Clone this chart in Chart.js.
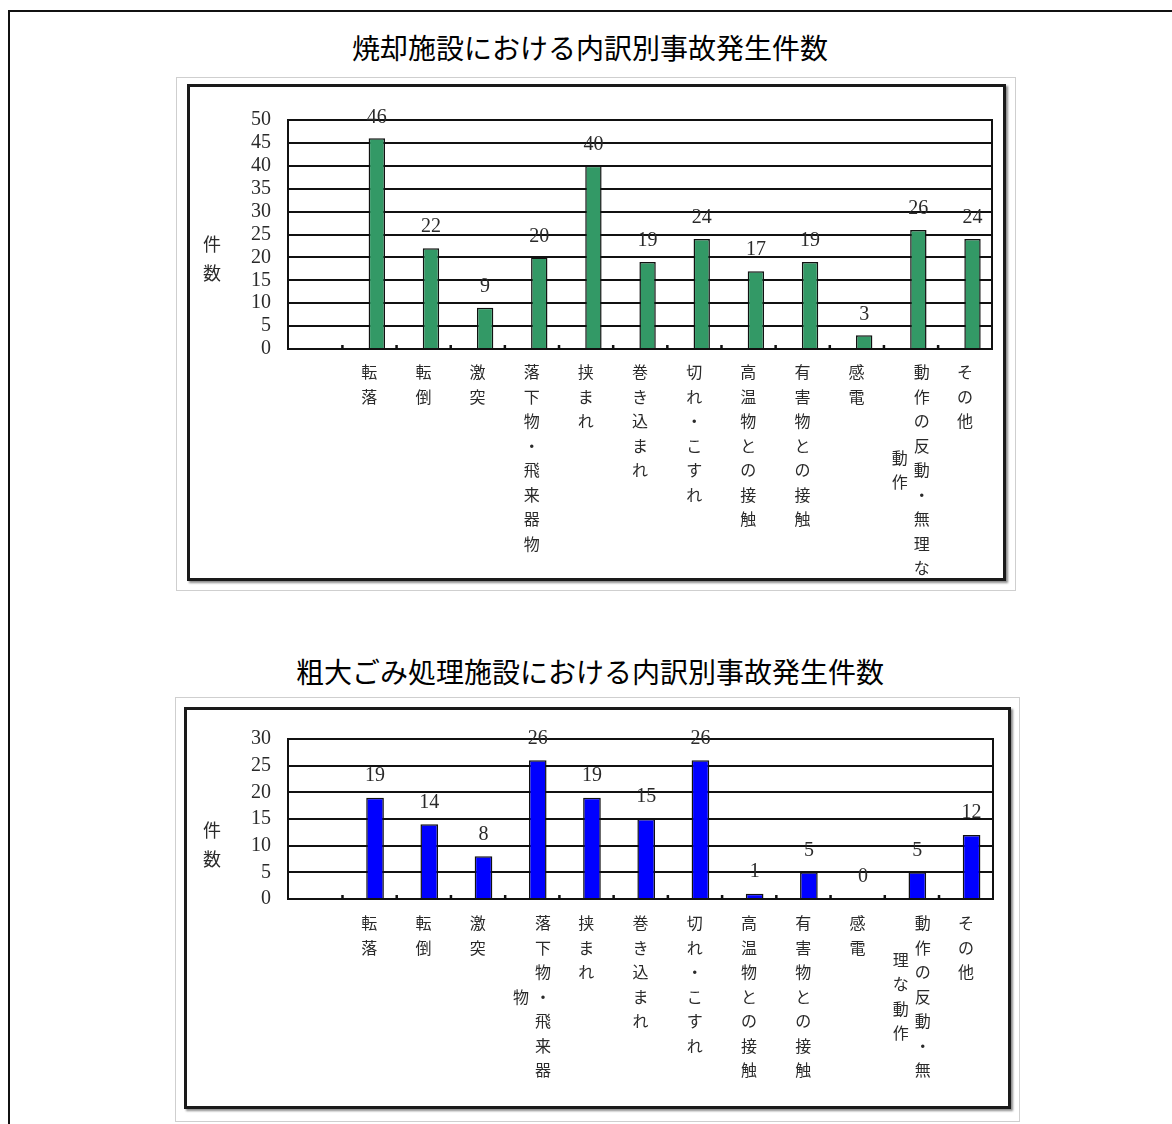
<!DOCTYPE html>
<html lang="ja">
<head>
<meta charset="utf-8">
<title>内訳別事故発生件数</title>
<script src="https://cdn.jsdelivr.net/npm/chart.js@4.4.0/dist/chart.umd.min.js"></script>
<style>
  html, body { margin: 0; padding: 0; background: #fff; }
  body { width: 1172px; height: 1124px; position: relative; overflow: hidden;
         font-family: "Noto Sans CJK JP", "Noto Sans", sans-serif; }
  #page { position: absolute; left: 8px; top: 10px; width: 1300px; height: 1300px;
          border-left: 2px solid #111; border-top: 2px solid #111; }
  .title { position: absolute; left: 8px; width: 1164px; text-align: center;
           font-size: 28px; line-height: 32px; color: #000; white-space: nowrap; }
  .imgbox { position: absolute; box-sizing: border-box; border: 1px solid #cfcfcf; background: #fff; }
  .frame { position: absolute; box-sizing: border-box; border: 3px solid #1a1a1a;
           box-shadow: 2px 2px 2px rgba(0,0,0,0.45); filter: blur(0.4px); }
  .plot { position: absolute; }
  .plot canvas { filter: blur(0.55px); }
</style>
</head>
<body>
<div id="page"></div>

<div class="title" id="title1" style="top:31px;"></div>
<div class="imgbox" style="left:176px; top:77px; width:840px; height:514px;"></div>
<div class="frame" style="left:187px; top:84px; width:819px; height:497px;"></div>
<div class="plot" style="left:190px; top:87px; width:813px; height:491px;"><canvas id="chart1"></canvas></div>

<div class="title" id="title2" style="top:655px;"></div>
<div class="imgbox" style="left:175px; top:697px; width:845px; height:425px;"></div>
<div class="frame" style="left:184px; top:707px; width:827px; height:402px;"></div>
<div class="plot" style="left:187px; top:710px; width:821px; height:396px;"><canvas id="chart2"></canvas></div>

<script>
// Accident categories (the first slot is left empty on both charts)
const categories = ['', '転落', '転倒', '激突', '落下物・飛来器物', '挟まれ', '巻き込まれ',
  '切れ・こすれ', '高温物との接触', '有害物との接触', '感電', '動作の反動・無理な動作', 'その他'];

// Accident counts per category
const incineratorCounts = [null, 46, 22, 9, 20, 40, 19, 24, 17, 19, 3, 26, 24];
const bulkyWasteCounts  = [null, 19, 14, 8, 26, 19, 15, 26, 1, 5, 0, 5, 12];

// Empty companion series: it keeps the count bars in the right half of each category slot
const emptySeries = [null, null, null, null, null, null, null, null, null, null, null, null, null];

// Value-axis tick labels
const incineratorTicks = [0, 5, 10, 15, 20, 25, 30, 35, 40, 45, 50];
const bulkyWasteTicks  = [0, 5, 10, 15, 20, 25, 30];

const chartTitles = ['焼却施設における内訳別事故発生件数', '粗大ごみ処理施設における内訳別事故発生件数'];
const valueAxisTitle = '件数';

document.getElementById('title1').textContent = chartTitles[0];
document.getElementById('title2').textContent = chartTitles[1];

const INK = '#2a2a2a';
const LINE = '#111';
const SERIF = '"Liberation Serif", "DejaVu Serif", serif';
const CJK = '"Noto Sans CJK JP", sans-serif';

// Draws the plot frame, category boundary marks, bar values,
// vertical (tategaki) category labels and the stacked axis title.
const decorations = {
  id: 'decorations',
  afterDatasetsDraw(chart, args, o) {
    const { ctx, chartArea: a, scales: { x } } = chart;
    ctx.save();

    // right edge of the plot frame
    ctx.strokeStyle = LINE;
    ctx.lineWidth = 2;
    ctx.beginPath();
    ctx.moveTo(a.right, a.top - 1);
    ctx.lineTo(a.right, a.bottom + 1);
    ctx.stroke();

    // small inward marks on the category boundaries
    ctx.fillStyle = LINE;
    const n = chart.data.labels.length;
    for (let i = 1; i < n; i++) {
      const px = (x.getPixelForTick(i - 1) + x.getPixelForTick(i)) / 2;
      ctx.fillRect(px - 1, a.bottom - 4, 2.5, 4);
    }

    // value labels above the bars
    const ds = chart.data.datasets[1];
    const meta = chart.getDatasetMeta(1);
    ctx.fillStyle = INK;
    ctx.font = o.valueFont;
    ctx.textAlign = 'center';
    ctx.textBaseline = 'bottom';
    meta.data.forEach((bar, i) => {
      const v = ds.data[i];
      if (v === null || v === undefined) return;
      ctx.fillText(String(v), bar.x, bar.y - o.valueGap);
    });

    // vertical category labels, wrapped into columns right-to-left
    ctx.font = o.labelFont;
    ctx.textBaseline = 'middle';
    chart.data.labels.forEach((lab, i) => {
      if (!lab) return;
      const chars = Array.from(lab);
      const cols = [];
      for (let k = 0; k < chars.length; k += o.rows) cols.push(chars.slice(k, k + o.rows));
      const cx = x.getPixelForTick(i);
      cols.forEach((col, c) => {
        const colX = cx + ((cols.length - 1) / 2 - c) * o.colGap;
        const yOff = (cols[0].length - col.length) / 2 * o.rowPitch;
        col.forEach((ch, r) => {
          ctx.fillText(ch, colX, a.bottom + o.labelTop + yOff + r * o.rowPitch);
        });
      });
    });

    // stacked value-axis title
    ctx.font = o.axisTitleFont;
    Array.from(o.axisTitle).forEach((ch, r) => {
      ctx.fillText(ch, a.left - o.axisTitleDx, a.top + o.axisTitleDy + r * o.axisTitlePitch);
    });

    ctx.restore();
  }
};

function makeChart(id, counts, ticks, color, geo) {
  return new Chart(document.getElementById(id), {
    type: 'bar',
    data: {
      labels: categories,
      datasets: [
        { label: '', data: emptySeries, backgroundColor: 'rgba(0,0,0,0)' },
        {
          label: '件数',
          data: counts,
          backgroundColor: color,
          borderColor: LINE,
          borderWidth: 1.5,
          categoryPercentage: geo.catPct,
          barPercentage: geo.barPct
        }
      ]
    },
    options: {
      responsive: true,
      maintainAspectRatio: false,
      animation: false,
      datasets: { bar: { categoryPercentage: geo.catPct, barPercentage: geo.barPct } },
      layout: { padding: { left: 0, top: geo.padTop, right: geo.padRight, bottom: 0 } },
      plugins: {
        legend: { display: false },
        tooltip: { enabled: false },
        title: { display: false },
        decorations: {
          valueFont: '20px ' + SERIF,
          valueGap: geo.valueGap,
          labelFont: '16px ' + CJK,
          rows: geo.rows,
          rowPitch: 24.5,
          colGap: 22,
          labelTop: geo.labelTop,
          axisTitle: valueAxisTitle,
          axisTitleFont: '18px ' + CJK,
          axisTitleDx: 76,
          axisTitleDy: geo.axisTitleDy,
          axisTitlePitch: 29
        }
      },
      scales: {
        x: {
          grid: { display: false, drawTicks: false },
          border: { display: true, color: LINE, width: 2 },
          ticks: { display: false },
          afterFit(scale) { scale.height = geo.xHeight; }
        },
        y: {
          min: ticks[0],
          max: ticks[ticks.length - 1],
          afterBuildTicks(scale) { scale.ticks = ticks.map(v => ({ value: v })); },
          grid: { color: LINE, lineWidth: 2, drawTicks: false },
          border: { display: true, color: LINE, width: 2 },
          ticks: {
            padding: 17,
            color: INK,
            font: { family: SERIF, size: 20 },
            autoSkip: false
          },
          afterFit(scale) { scale.width = geo.yWidth; }
        }
      }
    },
    plugins: [decorations]
  });
}

makeChart('chart1', incineratorCounts, incineratorTicks, '#339966', {
  catPct: 0.56, barPct: 1.08, padTop: 33, padRight: 11, xHeight: 229, yWidth: 98,
  valueGap: 11, rows: 9, labelTop: 23, axisTitleDy: 124
});

makeChart('chart2', bulkyWasteCounts, bulkyWasteTicks, '#0000ff', {
  catPct: 0.42, barPct: 1.55, padTop: 17, padRight: 15, xHeight: 207, yWidth: 101,
  valueGap: 12, rows: 7, labelTop: 24, axisTitleDy: 91
});
</script>
</body>
</html>
